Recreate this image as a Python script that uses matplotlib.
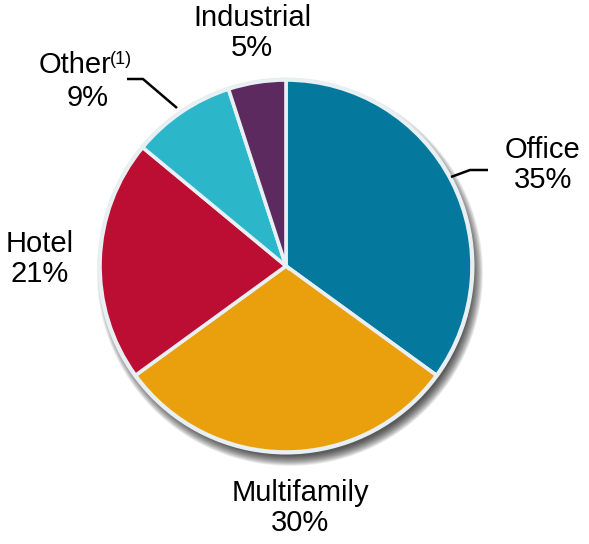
import numpy as np
import matplotlib
matplotlib.use("Agg")
from matplotlib import pyplot as plt
from matplotlib.patches import Circle

plt.rcParams['font.family'] = ['Liberation Sans', 'DejaVu Sans']

# portfolio mix by property type (%)
labels = ["Office", "Multifamily", "Hotel", "Other", "Industrial"]
values = [35, 30, 21, 9, 5]
colors = ["#04799D", "#EAA00C", "#BC0E32", "#2CB6C9", "#5C2A5F"]

W, H = 589, 544
fig = plt.figure(figsize=(W / 100, H / 100), dpi=100)
ax = fig.add_axes([0, 0, 1, 1])

cx, cy, R = 286, H - 266, 186

# soft drop shadow toward the lower right
for i in range(12):
	ax.add_patch(Circle((cx + 4, cy - 7), R - 3 + i * 0.9, color="black",
						alpha=0.08, lw=0, zorder=1))
ax.add_patch(Circle((cx, cy), R + 2.5, color="#E4EDF2", lw=0, zorder=2))

ax.pie(values, colors=colors, startangle=90, counterclock=False,
	   center=(cx, cy), radius=R, frame=True,
	   wedgeprops=dict(edgecolor="#E9F0F4", linewidth=2.6, zorder=3))
ax.set_xlim(0, W)
ax.set_ylim(0, H)
ax.set_aspect('equal')
ax.axis('off')

fs = 21
def label(x, y, txt):
	ax.text(x, H - y, txt, fontsize=fs, ha="center", va="center",
			linespacing=1.12, zorder=5)

label(543, 165, "Office\n35%")
label(300, 508, "Multifamily\n30%")
label(40, 259, "Hotel\n21%")
label(252, 33, "Industrial\n5%")

# Other with superscript note
ax.text(75, H - 65, "Other", fontsize=fs, ha="center", va="center", zorder=5)
ax.text(110, H - 60, "(1)", fontsize=13, ha="left", va="center", zorder=5)
ax.text(88, H - 98, "9%", fontsize=fs, ha="center", va="center", zorder=5)

# leader lines
ax.plot([127, 143, 177], [H - 79, H - 79, H - 108], color="black", lw=1.8,
		solid_capstyle="butt", zorder=5)
ax.plot([451, 470, 488], [H - 177, H - 170, H - 170], color="black", lw=1.8,
		solid_capstyle="butt", zorder=5)

fig.savefig("out.png", dpi=100)
